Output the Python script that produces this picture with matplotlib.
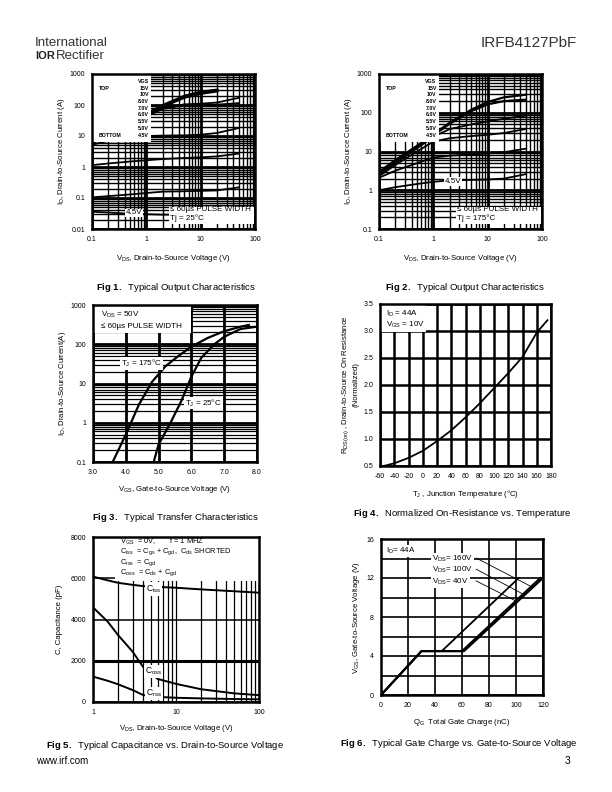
import matplotlib
matplotlib.use("Agg")
import matplotlib.pyplot as plt
from matplotlib.patches import Rectangle
from matplotlib.ticker import LogLocator, MultipleLocator, NullFormatter
import numpy as np

plt.rcParams['font.family'] = ['Liberation Sans', 'DejaVu Sans']
plt.rcParams['mathtext.fontset'] = 'custom'
plt.rcParams['mathtext.rm'] = 'Liberation Sans'
plt.rcParams['mathtext.it'] = 'Liberation Sans:italic'
plt.rcParams['mathtext.bf'] = 'Liberation Sans:bold'
plt.rcParams['mathtext.default'] = 'regular'
plt.rcParams['axes.unicode_minus'] = False

# Fig 1 - output characteristics, Tj = 25C
vds_25 = [0.1, 0.2, 0.5, 1, 2, 5, 10, 20, 50]
id_25_15v = [6, 12, 28, 50, 95, 190, 255, 300, np.nan]
id_25_10v = [6, 12, 27, 48, 90, 175, 235, 280, np.nan]
id_25_8v = [6, 12, 26, 45, 80, 105, 110, 120, 170]
id_25_7v = [6, 11, 25, 42, 75, 98, 100, 103, 115]
id_25_6v = [5.2, 7, 9, 10, 10.3, 10.5, 11, 12.5, 18]
id_25_55v = [1.15, 1.3, 1.5, 1.65, 1.8, 1.95, 2.05, 2.2, 2.7]
id_25_5v = [0.105, 0.115, 0.13, 0.145, 0.16, 0.165, 0.17, 0.175, 0.22]
id_25_45v = [0.036, 0.034, 0.031, 0.030, 0.029, 0.029, 0.030, 0.030, 0.033]

# Fig 2 - output characteristics, Tj = 175C
vds_175 = [0.1, 0.2, 0.5, 1, 2, 5, 10, 20, 50]
id_175_15v = [3, 6, 14, 28, 55, 120, 190, 250, 292]
id_175_10v = [2.8, 5.6, 13, 26, 52, 110, 165, 200, 217]
id_175_8v = [2.5, 5, 12, 24, 38, 50, 60, 70, 84]
id_175_7v = [2.3, 4.5, 10, 18, 22, 25, 27, 30, 38]
id_175_6v = [2.1, 3.2, 5, 7, 7.8, 8.4, 8.9, 9.6, 11.8]
id_175_45v = [1.0, 1.2, 1.45, 1.65, 1.8, 1.85, 1.9, 2.0, 2.6]

vgs_legend = ["VGS", "15V", "10V", "8.0V", "7.0V", "6.0V", "5.5V", "5.0V", "4.5V"]

# Fig 3 - transfer characteristics
vgs_hot = [3.6, 4.0, 4.4, 4.8, 5.2, 5.6, 6.0, 6.5, 7.0, 7.5, 7.75]
id_hot = [0.1, 0.5, 2.9, 11, 27, 50, 87, 145, 215, 280, 310]
vgs_cold = [4.85, 5.0, 5.35, 5.7, 6.0, 6.3, 6.7, 7.0, 7.5, 8.0]
id_cold = [0.1, 0.28, 0.95, 3.7, 15, 45, 100, 155, 245, 280]

# Fig 4 - normalized on-resistance
tj = [-55, -40, -20, 0, 20, 40, 60, 80, 100, 120, 140, 160, 175]
rds_norm = [0.5, 0.55, 0.65, 0.78, 0.96, 1.16, 1.4, 1.66, 1.94, 2.22, 2.52, 2.97, 3.2]

# Fig 5 - capacitance
vds_cap = [1, 1.5, 2, 3, 4, 6, 10, 20, 50, 100]
c_iss = [6080, 5900, 5780, 5680, 5620, 5580, 5540, 5460, 5370, 5300]
c_oss = [4590, 3900, 3250, 2440, 1710, 1120, 880, 620, 420, 330]
c_rss = [1230, 1030, 860, 580, 340, 250, 205, 175, 145, 130]

# Fig 6 - gate charge
qg_a = [0, 30, 45, 102]
qg_b = [0, 30, 60, 118]
qg_c = [0, 30, 61.5, 120]
vgs_q = [0, 4.5, 4.5, 12]
vds_q_labels = ["160V", "100V", "40V"]

W, H = 612, 792
fig = plt.figure(figsize=(W / 100, H / 100), dpi=100)


def make_axes(left, top, right, bottom):
    ax = fig.add_axes([left / W, 1 - bottom / H, (right - left) / W, (bottom - top) / H])
    ax.tick_params(which='both', length=0, labelsize=5, pad=5)
    ax.set_axisbelow(True)
    for s in ax.spines.values():
        s.set_linewidth(1.8)
        s.set_zorder(6)
    return ax


def ptext(x, y, s, **kw):
    fig.text(x / W, 1 - y / H, s, **kw)


def white_box(ax, x0, y0, x1, y1):
    ax.add_patch(Rectangle((x0, y0), x1 - x0, y1 - y0, transform=ax.transAxes,
                           facecolor='white', edgecolor='none', zorder=3))


def log_grid(ax):
    ax.set_xscale('log')
    ax.set_yscale('log')
    for a in (ax.xaxis, ax.yaxis):
        a.set_minor_locator(LogLocator(base=10, subs=np.arange(2, 10), numticks=50))
        a.set_minor_formatter(NullFormatter())
    ax.grid(True, which='major', color='k', lw=2.0)
    ax.grid(True, which='minor', color='k', lw=1.0)


lbl = dict(fontsize=5.6)
vds_label = r"V$_{DS}$, Drain-to-Source Voltage (V)"
id_label = r"I$_{D}$, Drain-to-Source Current (A)"
small = dict(fontsize=3.8, fontweight='bold', zorder=4)

# ---------- Fig 1 ----------
ax1 = make_axes(92, 74, 255, 229)
log_grid(ax1)
for y, w in [(id_25_15v, 2.4), (id_25_10v, 2.0), (id_25_8v, 1.3), (id_25_7v, 1.3),
             (id_25_6v, 1.3), (id_25_55v, 1.3), (id_25_5v, 1.3), (id_25_45v, 1.3)]:
    ax1.plot(vds_25, y, color='k', lw=w, zorder=2)
ax1.set_xlim(0.1, 100)
ax1.set_ylim(0.01, 1000)
ax1.set_xticks([0.1, 1, 10, 100], ['0.1', '1', '10', '100'])
ax1.set_yticks([0.01, 0.1, 1, 10, 100, 1000], ['0.01', '0.1', '1', '10', '100', '1000'])
ax1.set_xlabel(vds_label, labelpad=7, **lbl)
ax1.set_ylabel(id_label, labelpad=2, **lbl)

# ---------- Fig 2 ----------
ax2 = make_axes(379, 74, 542, 229)
log_grid(ax2)
for y, w in [(id_175_15v, 1.6), (id_175_10v, 1.6), (id_175_8v, 1.3), (id_175_7v, 1.3),
             (id_175_6v, 1.3), (id_175_45v, 1.3)]:
    ax2.plot(vds_175, y, color='k', lw=w, zorder=2)
ax2.set_xlim(0.1, 100)
ax2.set_ylim(0.1, 1000)
ax2.set_xticks([0.1, 1, 10, 100], ['0.1', '1', '10', '100'])
ax2.set_yticks([0.1, 1, 10, 100, 1000], ['0.1', '1', '10', '100', '1000'])
ax2.set_xlabel(vds_label, labelpad=7, **lbl)
ax2.set_ylabel(id_label, labelpad=2, **lbl)

for ax, boxr, tj_txt in [(ax1, 0.364, "Tj = 25°C"), (ax2, 0.368, "Tj = 175°C")]:
    white_box(ax, 0.0, 0.56, boxr, 1.0)
    for i, s in enumerate(vgs_legend):
        ax.text(boxr - 0.015, 0.951 - i * 0.0431, s, transform=ax.transAxes,
                ha='right', va='center', **small)
    ax.text(0.04, 0.908, "TOP", transform=ax.transAxes, va='center', **small)
    ax.text(0.04, 0.606, "BOTTOM", transform=ax.transAxes, va='center', **small)
    white_box(ax, 0.47, 0.035, 0.995, 0.145)
    ax.text(0.477, 0.123, "≤ 60µs PULSE WIDTH", transform=ax.transAxes, va='center',
            fontsize=5.8, zorder=4)
    ax.text(0.477, 0.069, tj_txt, transform=ax.transAxes, va='center', fontsize=5.8, zorder=4)

bb = dict(facecolor='white', edgecolor='none', pad=0.6)
ax1.text(0.6, 0.033, "4.5V", ha='center', va='center', fontsize=5.8, bbox=bb, zorder=4)
ax2.text(2.3, 1.7, "4.5V", ha='center', va='center', fontsize=5.8, bbox=bb, zorder=4)

# ---------- Fig 3 ----------
ax3 = make_axes(93, 305, 257, 462)
ax3.set_yscale('log')
ax3.yaxis.set_minor_locator(LogLocator(base=10, subs=np.arange(2, 10), numticks=50))
ax3.yaxis.set_minor_formatter(NullFormatter())
ax3.grid(True, which='major', color='k', lw=2.0)
ax3.grid(True, which='minor', axis='y', color='k', lw=0.9)
ax3.plot(vgs_hot, id_hot, color='k', lw=1.6, zorder=2)
ax3.plot(vgs_cold, id_cold, color='k', lw=1.6, zorder=2)
ax3.set_xlim(3, 8)
ax3.set_ylim(0.1, 1000)
ax3.set_xticks(np.arange(3, 9), ['3.0', '4.0', '5.0', '6.0', '7.0', '8.0'])
ax3.set_yticks([0.1, 1, 10, 100, 1000], ['0.1', '1', '10', '100', '1000'])
ax3.set_xlabel(r"V$_{GS}$, Gate-to-Source Voltage (V)", labelpad=6, **lbl)
ax3.set_ylabel(r"I$_{D}$, Drain-to-Source Current(A)", labelpad=2, **lbl)
white_box(ax3, 0.0, 0.82, 0.6, 1.0)
ax3.text(0.05, 0.936, r"V$_{DS}$ = 50V", transform=ax3.transAxes, va='center', fontsize=5.8, zorder=4)
ax3.text(0.05, 0.862, "≤ 60µs PULSE WIDTH", transform=ax3.transAxes, va='center', fontsize=5.8, zorder=4)
ax3.text(4.48, 32, r"T$_{J}$ = 175°C", ha='center', va='center', fontsize=5.8, bbox=bb, zorder=4)
ax3.text(6.37, 3.2, r"T$_{J}$ = 25°C", ha='center', va='center', fontsize=5.8, bbox=bb, zorder=4)

# ---------- Fig 4 ----------
ax4 = make_axes(380, 304, 551, 466)
ax4.grid(True, color='k', lw=1.8)
ax4.plot(tj, rds_norm, color='k', lw=1.3, zorder=2)
ax4.set_xlim(-60, 180)
ax4.set_ylim(0.5, 3.5)
ax4.set_xticks(np.arange(-60, 181, 20))
ax4.set_yticks(np.arange(0.5, 3.51, 0.5), [f"{v:.1f}" for v in np.arange(0.5, 3.51, 0.5)])
ax4.set_xlabel(r"T$_{J}$ , Junction Temperature (°C)", labelpad=6, **lbl)
ax4.set_ylabel(r"R$_{DS(on)}$ , Drain-to-Source On Resistance" + "\n(Normalized)", labelpad=3, **lbl)
white_box(ax4, 0.0, 0.83, 0.27, 1.0)
ax4.text(0.035, 0.938, r"I$_{D}$ = 44A", transform=ax4.transAxes, va='center', fontsize=5.8, zorder=4)
ax4.text(0.035, 0.87, r"V$_{GS}$ = 10V", transform=ax4.transAxes, va='center', fontsize=5.8, zorder=4)

# ---------- Fig 5 ----------
ax5 = make_axes(93, 537, 259, 702)
ax5.set_xscale('log')
ax5.xaxis.set_minor_locator(LogLocator(base=10, subs=np.arange(2, 10), numticks=50))
ax5.xaxis.set_minor_formatter(NullFormatter())
ax5.grid(True, which='both', axis='x', color='k', lw=0.9)
ax5.grid(True, which='major', axis='y', color='k', lw=1.1)
ax5.plot(vds_cap, c_iss, color='k', lw=1.4, zorder=2)
ax5.plot(vds_cap, c_oss, color='k', lw=1.4, zorder=2)
ax5.plot(vds_cap, c_rss, color='k', lw=1.4, zorder=2)
ax5.set_xlim(1, 100)
ax5.set_ylim(0, 8000)
ax5.set_xticks([1, 10, 100], ['1', '10', '100'])
ax5.set_yticks(np.arange(0, 8001, 2000))
ax5.get_ygridlines()[1].set_linewidth(2.2)
ax5.set_xlabel(vds_label, labelpad=5, **lbl)
ax5.set_ylabel("C, Capacitance (pF)", labelpad=5, **lbl)
white_box(ax5, 0.13, 0.731, 1.0, 1.0)
cap_lines = [r"V$_{GS}$  = 0V,       f = 1 MHZ",
             r"C$_{iss}$  = C$_{gs}$ + C$_{gd}$,  C$_{ds}$ SHORTED",
             r"C$_{rss}$  = C$_{gd}$",
             r"C$_{oss}$  = C$_{ds}$ + C$_{gd}$"]
for i, s in enumerate(cap_lines):
    ax5.text(0.163, 0.971 - i * 0.062, s, transform=ax5.transAxes, va='center', fontsize=5.4, zorder=4)
for x, y, s in [(5.4, 5480, r"C$_{iss}$"), (5.4, 1470, r"C$_{oss}$"), (5.4, 420, r"C$_{rss}$")]:
    ax5.text(x, y, s, ha='center', va='center', fontsize=6.2, bbox=bb, zorder=4)

# ---------- Fig 6 ----------
ax6 = make_axes(381, 539, 543, 695)
ax6.yaxis.set_minor_locator(MultipleLocator(2))
ax6.grid(True, which='both', color='k', lw=1.2)
ax6.plot(qg_a, vgs_q, color='k', lw=1.3, zorder=2)
ax6.plot(qg_b, vgs_q, color='k', lw=1.5, zorder=2)
ax6.plot(qg_c, vgs_q, color='k', lw=1.5, zorder=2)
ax6.set_xlim(0, 120)
ax6.set_ylim(0, 16)
ax6.set_xticks(np.arange(0, 121, 20))
ax6.set_yticks(np.arange(0, 17, 4))
ax6.set_xlabel(r"Q$_{G}$  Total Gate Charge (nC)", labelpad=6, **lbl)
ax6.set_ylabel(r"V$_{GS}$, Gate-to-Source Voltage (V)", labelpad=3, **lbl)
ax6.text(3.7, 14.8, r"I$_{D}$= 44A", va='center', fontsize=5.8, bbox=bb, zorder=4)
label_y = [13.95, 12.8, 11.6]
leader_end = [(111.6, 11.1), (105.9, 10.3), (100.5, 9.6)]
for s, y, (xe, ye) in zip(vds_q_labels, label_y, leader_end):
    ax6.text(38, y, r"V$_{DS}$= " + s, va='center', fontsize=5.8, bbox=bb, zorder=4)
    ax6.plot([70.5, xe], [y + 0.1, ye], color='k', lw=0.6, zorder=4)

# ---------- page text ----------
ptext(35, 43, "International", fontsize=9.5, color='#333333', va='center')
ptext(35, 56, "IOR", fontsize=8, fontweight='bold', color='#222222', va='center')
ptext(56, 56, "Rectifier", fontsize=9.5, color='#333333', va='center')
ptext(577, 43, "IRFB4127PbF", fontsize=11, color='#333333', ha='right', va='center')

cap = dict(fontsize=6.8, ha='center', va='center')
ptext(176, 287, r"$\mathbf{Fig\ 1.}$  Typical Output Characteristics", **cap)
ptext(465, 287, r"$\mathbf{Fig\ 2.}$  Typical Output Characteristics", **cap)
ptext(175, 517, r"$\mathbf{Fig\ 3.}$  Typical Transfer Characteristics", **cap)
ptext(462, 513, r"$\mathbf{Fig\ 4.}$  Normalized On-Resistance vs. Temperature", **cap)
ptext(165, 745, r"$\mathbf{Fig\ 5.}$  Typical Capacitance vs. Drain-to-Source Voltage", **cap)
ptext(459, 744, r"$\mathbf{Fig\ 6.}$  Typical Gate Charge vs. Gate-to-Source Voltage", **cap)

ptext(36, 761, "www.irf.com", fontsize=7, va='center')
ptext(570, 761, "3", fontsize=7.5, ha='right', va='center')

fig.savefig("out.png", dpi=100)
